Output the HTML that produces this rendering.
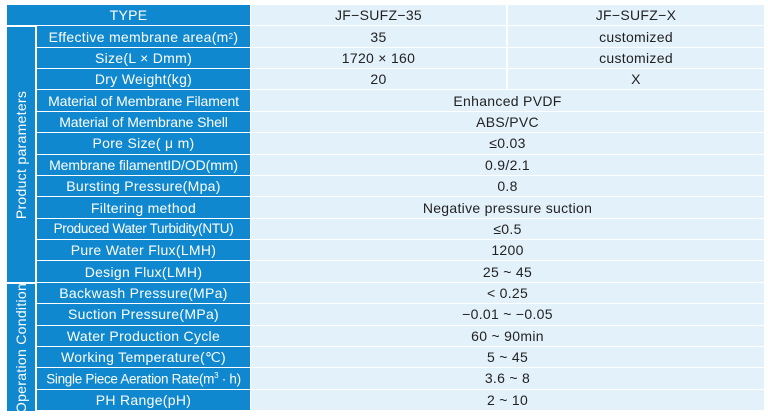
<!DOCTYPE html>
<html><head><meta charset="utf-8"><style>
body{margin:0;width:768px;height:419px;background:#fff;position:relative;overflow:hidden;font-family:"Liberation Sans",Arial,sans-serif;}
.c{position:absolute;display:flex;align-items:center;justify-content:center;font-size:14px;white-space:nowrap;box-sizing:border-box;letter-spacing:0.3px}
.b{background:#0f88cf;color:#fff}
.l{background:#e3f1fb;color:#222}
.v{position:absolute;background:#0f88cf;color:#fff;font-size:14px;display:flex;align-items:center;justify-content:center;}
.v span{transform:rotate(-90deg);white-space:nowrap;letter-spacing:0.3px}
</style></head><body>
<div class="v" style="left:7px;top:27px;width:28px;height:255px"><span>Product parameters</span></div>
<div class="v" style="left:7px;top:284px;width:28px;height:127px"><span>Operation Condition</span></div>
<script>
var rows=[
["Effective membrane area(m<sup style='font-size:8px'>2</sup>)","35","customized"],
["Size(L × Dmm)","1720 × 160","customized"],
["Dry Weight(kg)","20","X"],
["Material of Membrane Filament","Enhanced PVDF"],
["Material of Membrane Shell","ABS/PVC"],
["Pore Size( μ m)","≤0.03"],
["Membrane filamentID/OD(mm)","0.9/2.1"],
["Bursting Pressure(Mpa)","0.8"],
["Filtering method","Negative pressure suction"],
["Produced Water Turbidity(NTU)","≤0.5"],
["Pure Water Flux(LMH)","1200"],
["Design Flux(LMH)","25 ~ 45"],
["Backwash Pressure(MPa)","&lt; 0.25"],
["Suction Pressure(MPa)","−0.01 ~ −0.05"],
["Water Production Cycle","60 ~ 90min"],
["Working Temperature(℃)","5 ~ 45"],
["Single Piece Aeration Rate(m<sup style='font-size:8px'>3</sup> · h)","3.6 ~ 8"],
["PH Range(pH)","2 ~ 10"]
];
var y0=5,h=21.37;
function cell(x,y,w,hh,cls,html,name){
 var d=document.createElement('div');
 d.className='c '+cls;
 d.style.left=x+'px';d.style.top=y+'px';d.style.width=w+'px';d.style.height=hh+'px';
 d.innerHTML=html;
 
 
 document.body.appendChild(d);
}
cell(7,y0,243,h-1,'b','TYPE','type-header');
cell(251,y0,255,h-1,'l','JF−SUFZ−35','model-35-header');
cell(508,y0,256,h-1,'l','JF−SUFZ−X','model-x-header');
rows.forEach(function(r,i){
 var y=y0+(i+1)*h;
 var lab=r[0];
 if(i==9||i==16){lab="<span style='letter-spacing:-0.3px;font-size:13.5px'>"+lab+"</span>";}
 if(i==3||i==4||i==6){lab="<span style='letter-spacing:-0.1px'>"+lab+"</span>";}
 cell(37,y,213,h-1,'b',lab,'row-label');
 if(r.length==3){
  cell(251,y,255,h-1,'l',r[1],'value-35');
  cell(508,y,256,h-1,'l',r[2],'value-x');
 } else {
  cell(251,y,513,h-1,'l',r[1],'value');
 }
});
</script>
</body></html>
